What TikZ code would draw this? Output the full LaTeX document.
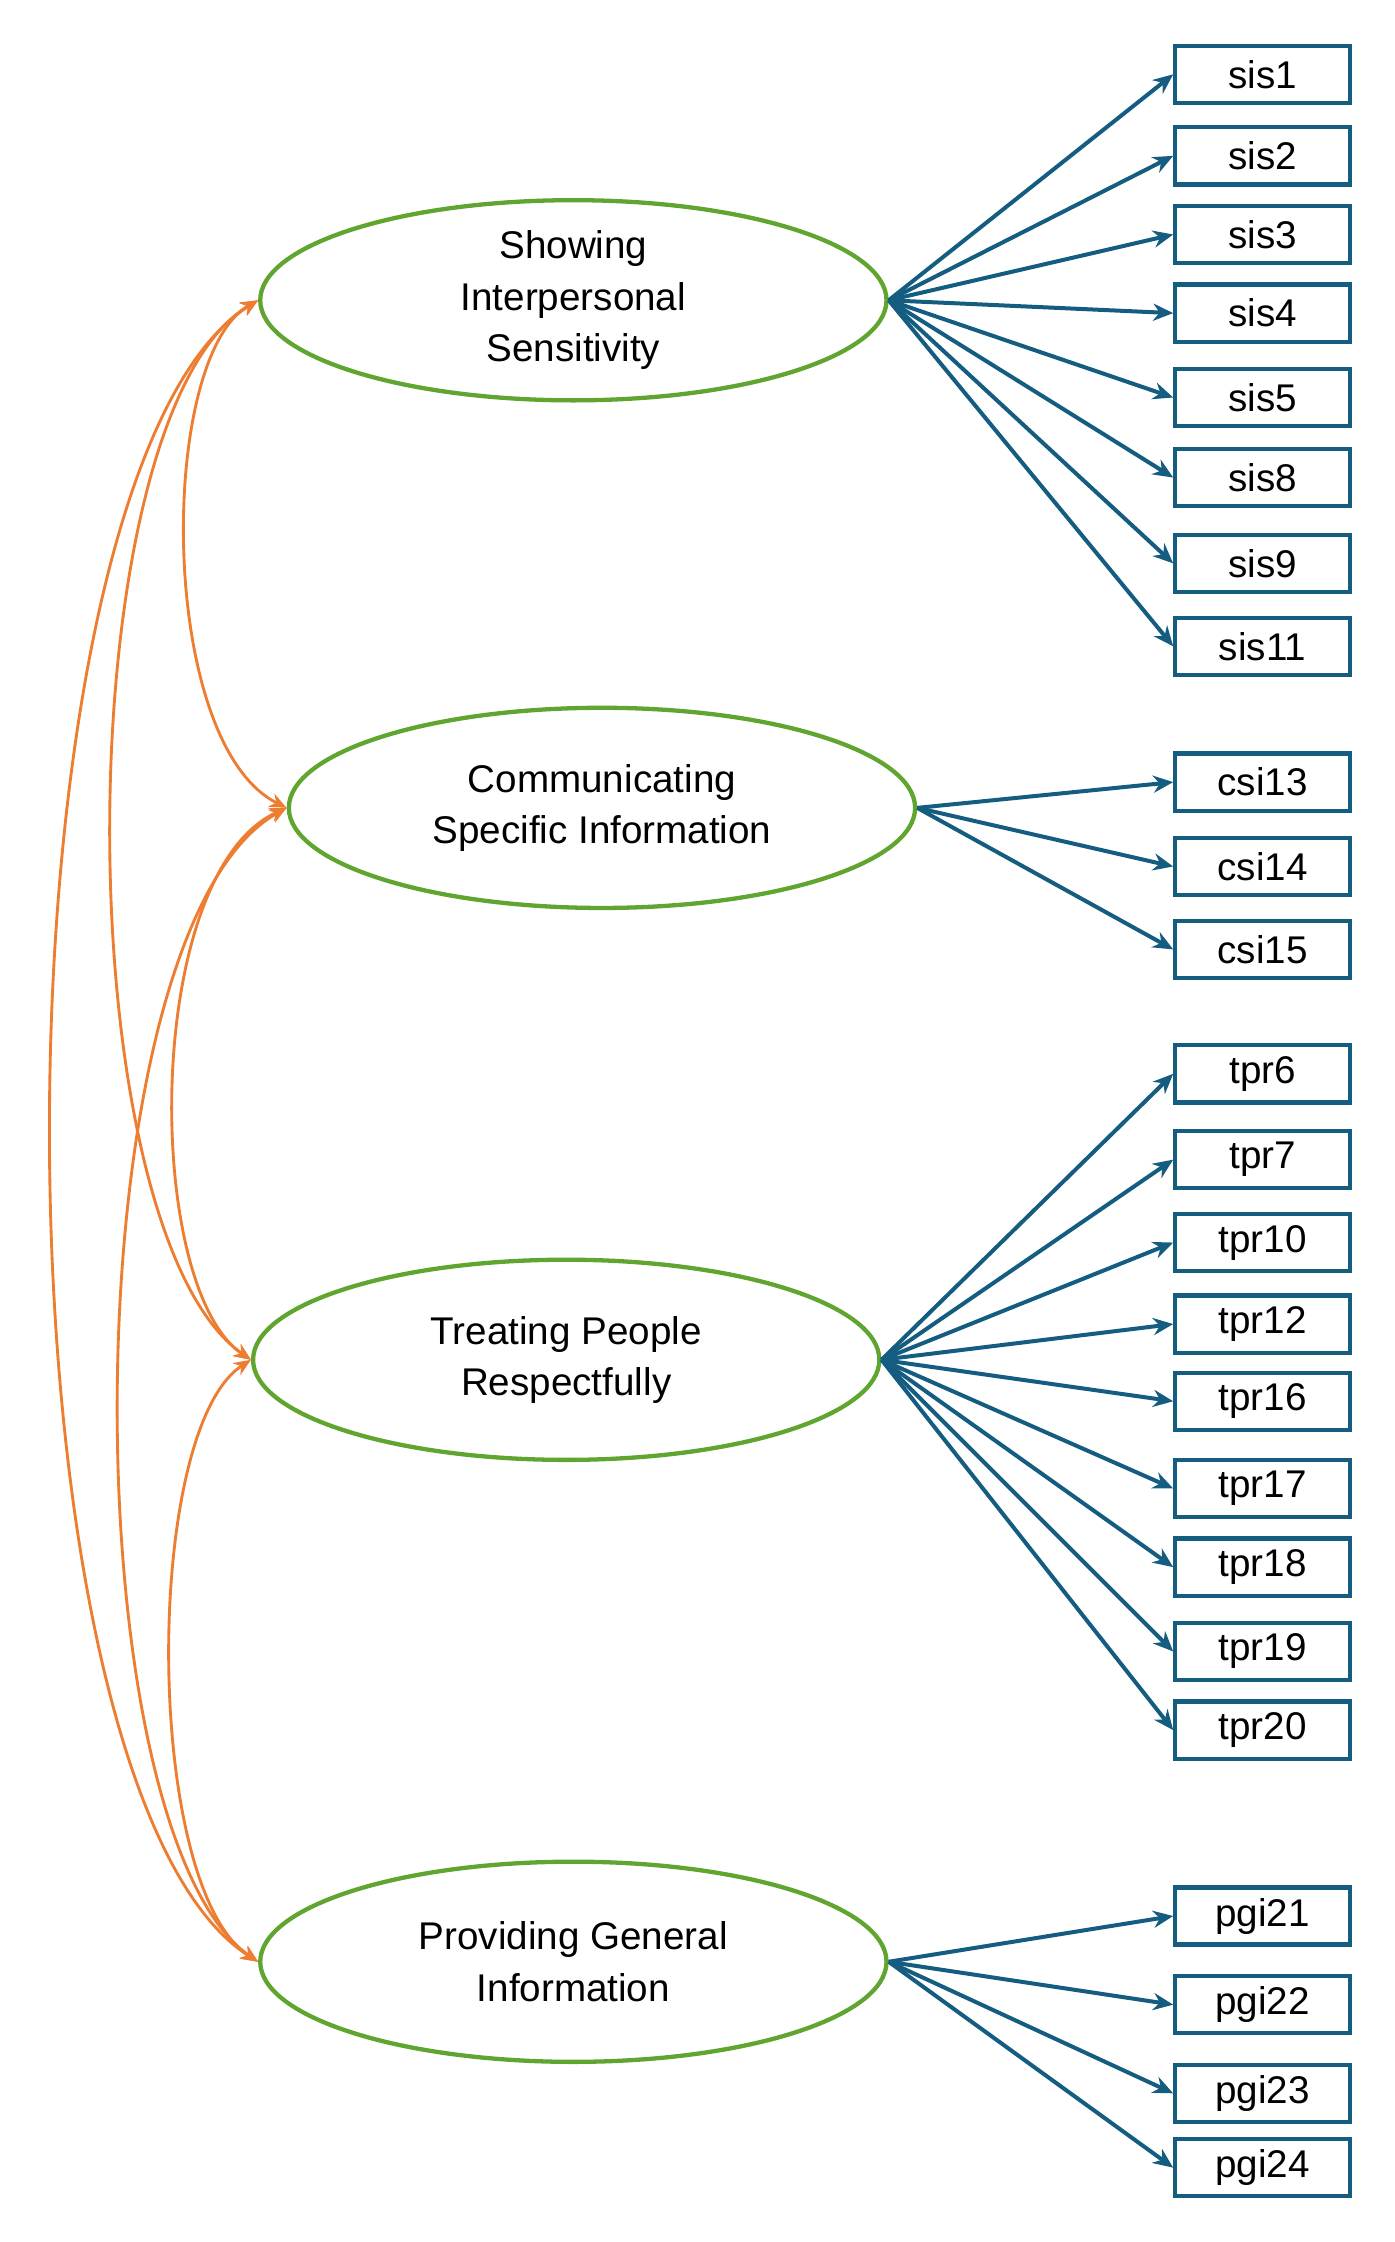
\documentclass[tikz,border=0pt]{standalone}
\usepackage{fontspec}
\setmainfont{Liberation Sans}
\usetikzlibrary{arrows.meta,shapes.geometric}
\definecolor{grn}{RGB}{96,165,48}
\definecolor{blu}{RGB}{20,93,128}
\definecolor{org}{RGB}{237,125,49}
\begin{document}
\begin{tikzpicture}[x=0.5pt,y=-0.5pt,
 lat/.style={draw=grn,line width=1.5pt,ellipse,minimum width=219pt,minimum height=70pt,align=center,font=\fontsize{13.5}{18}\selectfont,inner sep=0pt},
 obs/.style={draw=blu,line width=1.5pt,rectangle,minimum width=61pt,minimum height=20pt,font=\fontsize{13.5}{16}\selectfont,inner sep=0pt},
 load/.style={draw=blu,line width=1.4pt,-{Stealth[length=7pt,width=6pt]}},
 cov/.style={draw=org,line width=1pt,{Stealth[length=6pt,width=5pt]}-{Stealth[length=6pt,width=5pt]}}]
\useasboundingbox (0,0) rectangle (975,1568);
\node[lat] (E1) at (401,210) {Showing\\Interpersonal\\Sensitivity};
\node[lat] (E2) at (421,565) {Communicating\\Specific Information};
\node[lat] (E3) at (396,951) {Treating People\\Respectfully};
\node[lat] (E4) at (401,1372) {Providing General\\Information};
\foreach \n/\y in {sis1/52,sis2/109,sis3/164,sis4/219,sis5/278,sis8/334,sis9/394,sis11/452}{
 \node[obs] (\n) at (883,\y) {\n}; \draw[load] (E1.east) -- (\n.west);}
\foreach \n/\y in {csi13/547,csi14/606,csi15/664}{
 \node[obs] (\n) at (883,\y) {\n}; \draw[load] (E2.east) -- (\n.west);}
\foreach \n/\y in {tpr6/751,tpr7/811,tpr10/869,tpr12/926,tpr16/980,tpr17/1041,tpr18/1096,tpr19/1155,tpr20/1210}{
 \node[obs] (\n) at (883,\y) {\n}; \draw[load] (E3.east) -- (\n.west);}
\foreach \n/\y in {pgi21/1340,pgi22/1402,pgi23/1464,pgi24/1516}{
 \node[obs] (\n) at (883,\y) {\n}; \draw[load] (E4.east) -- (\n.west);}
\draw[cov] (E1.west) .. controls (110,250) and (110,520) .. (E2.west);
\draw[cov] (E2.west) .. controls (100,610) and (100,900) .. (E3.west);
\draw[cov] (E3.west) .. controls (100,1000) and (100,1320) .. (E4.west);
\draw[cov] (E1.west) .. controls (45,290) and (45,860) .. (E3.west);
\draw[cov] (E2.west) .. controls (48,650) and (48,1280) .. (E4.west);
\draw[cov] (E1.west) .. controls (-12,330) and (-12,1250) .. (E4.west);
\end{tikzpicture}
\end{document}
